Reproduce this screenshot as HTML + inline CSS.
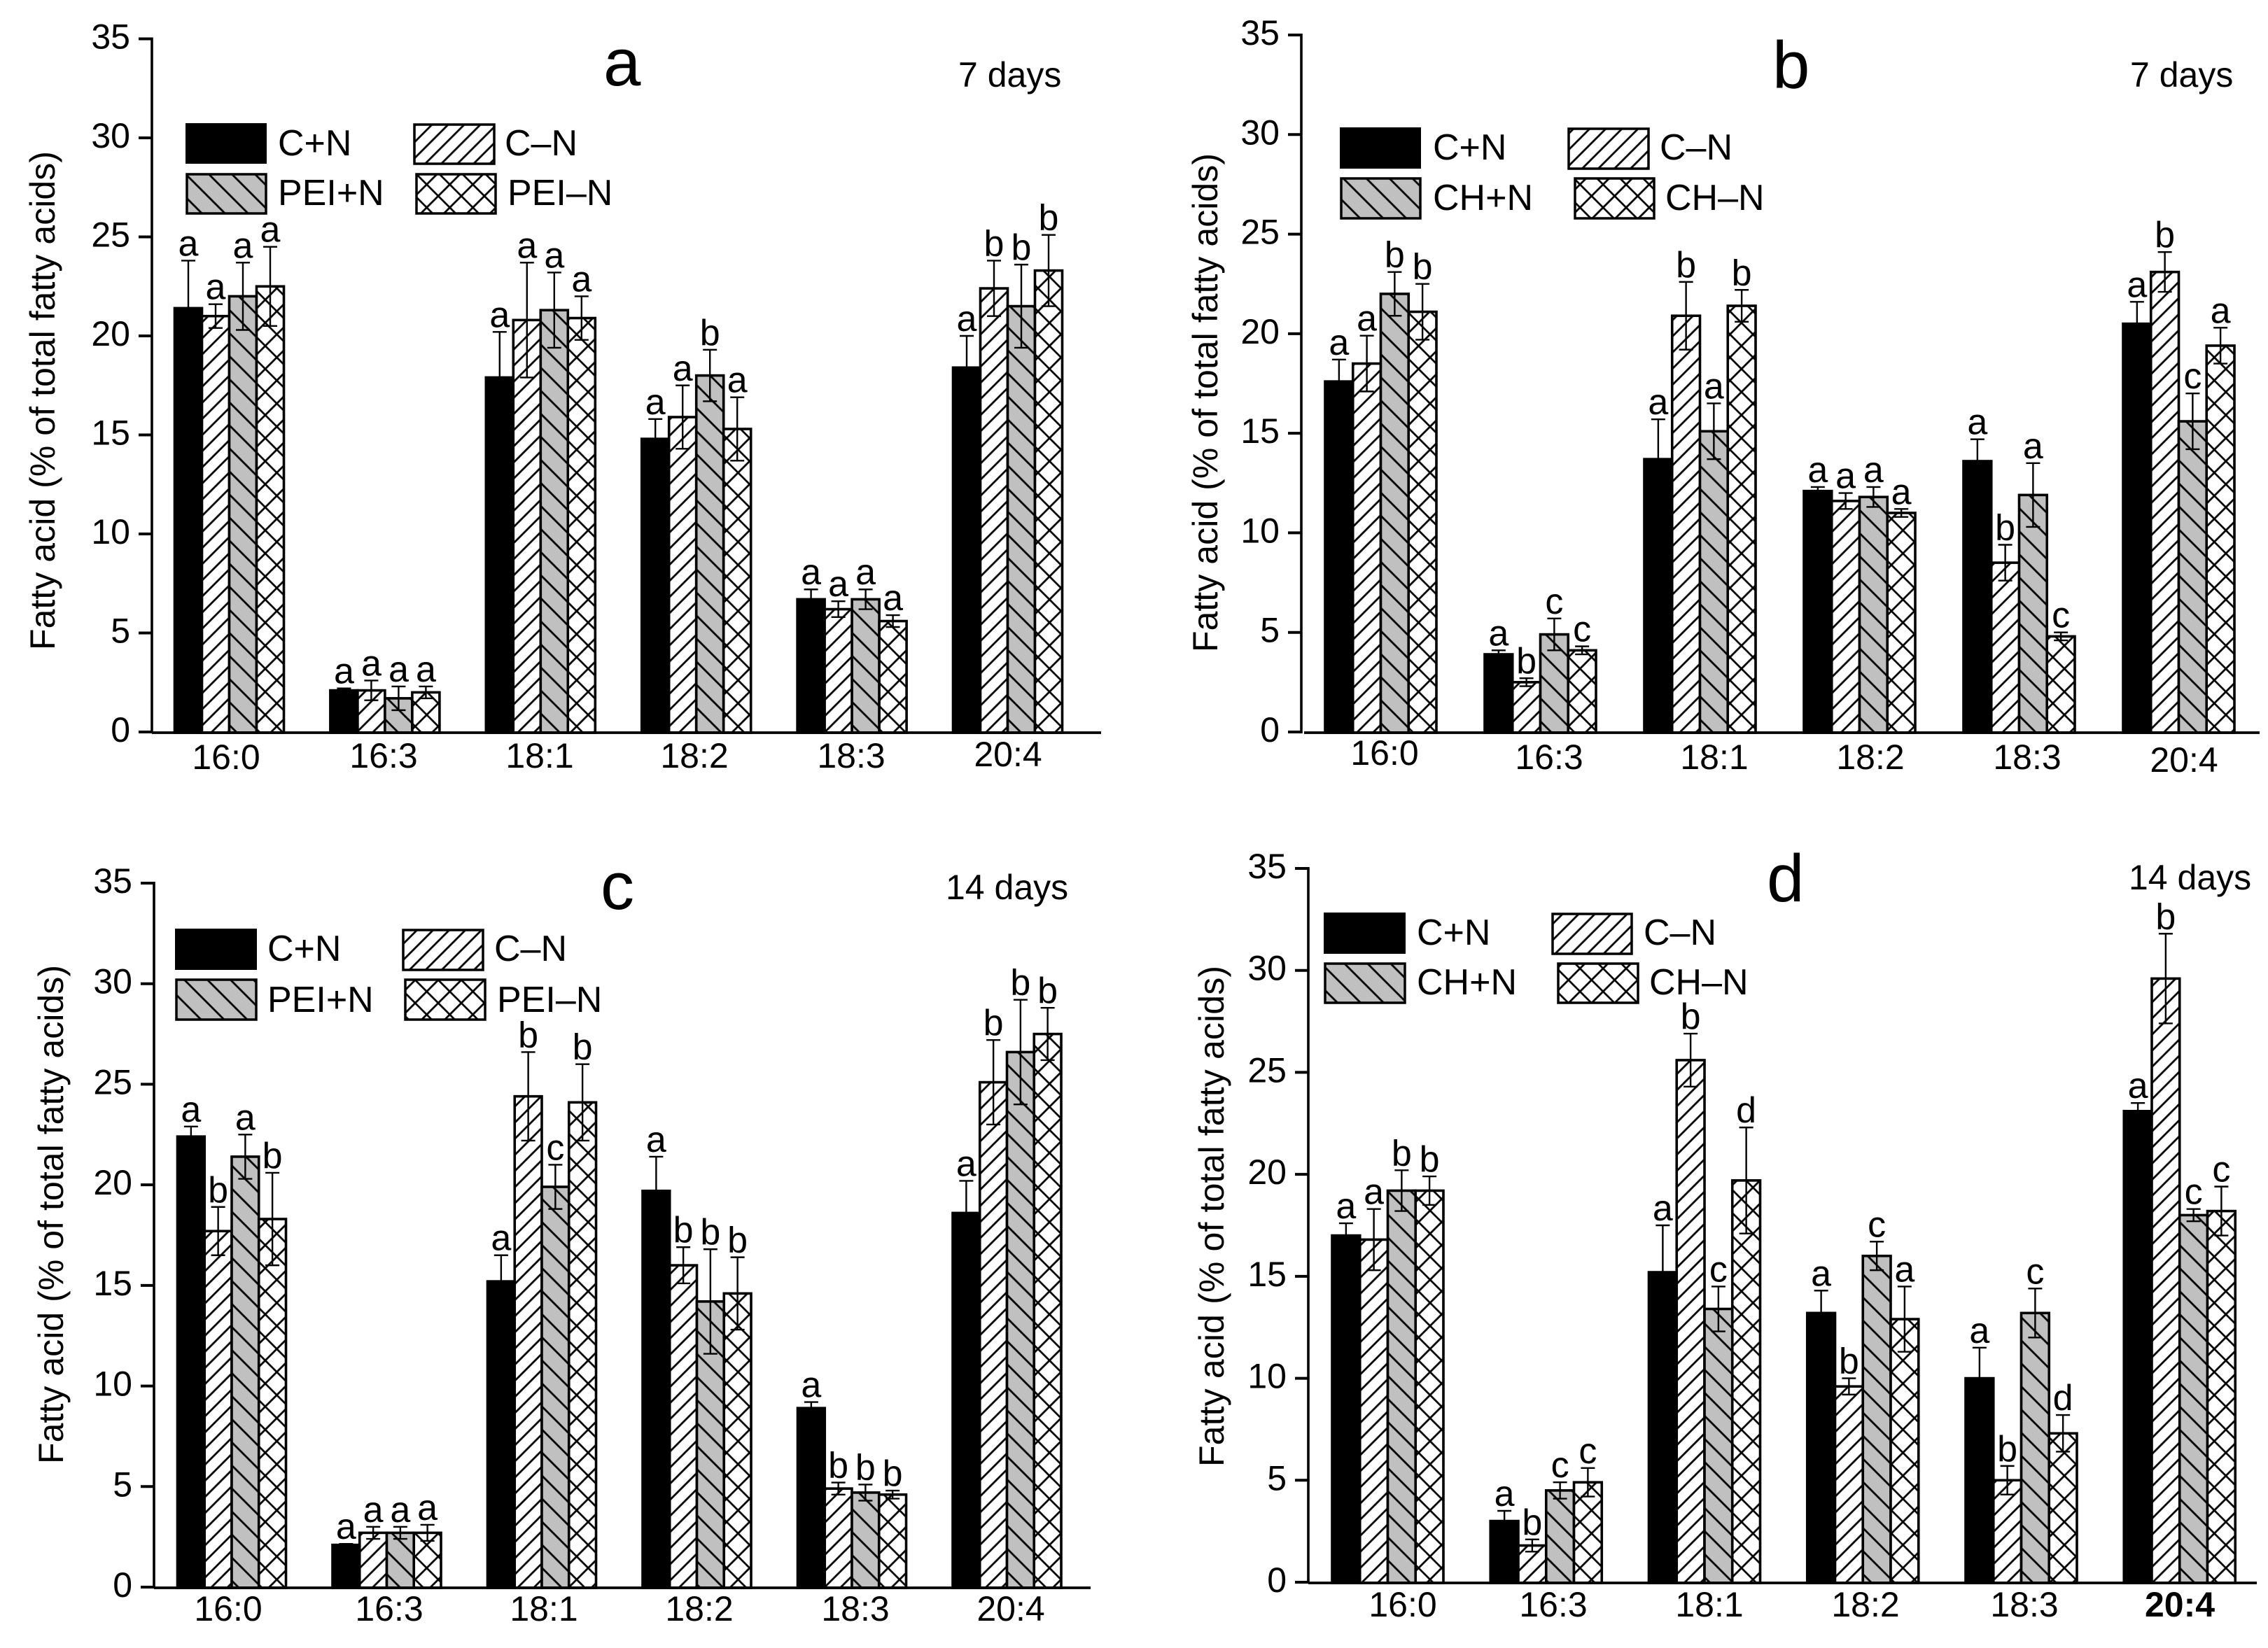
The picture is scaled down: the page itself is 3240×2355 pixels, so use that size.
<!DOCTYPE html>
<html lang="en">
<head>
<meta charset="utf-8">
<title>Fatty acid composition</title>
<style>
html,body{margin:0;padding:0;background:#fff;}
svg{display:block;font-family:"Liberation Sans",Arial,sans-serif;fill:#000;}
</style>
</head>
<body>
<svg id="chart" xmlns="http://www.w3.org/2000/svg" width="3240" height="2355" viewBox="0 0 3240 2355">
<defs>
<pattern id="p-hatch" patternUnits="userSpaceOnUse" width="16.3" height="16.3" patternTransform="rotate(45)">
<rect width="16.3" height="16.3" fill="#fff"/><line x1="8.15" y1="0" x2="8.15" y2="16.3" stroke="#000" stroke-width="2.8"/>
</pattern>
<pattern id="p-gray" patternUnits="userSpaceOnUse" width="23.3" height="23.3" patternTransform="rotate(-45)">
<rect width="23.3" height="23.3" fill="#c0c0c0"/><line x1="11.65" y1="0" x2="11.65" y2="23.3" stroke="#000" stroke-width="2.8"/>
</pattern>
<pattern id="p-cross" patternUnits="userSpaceOnUse" width="23.3" height="23.3" patternTransform="rotate(45)">
<rect width="23.3" height="23.3" fill="#fff"/><line x1="11.65" y1="0" x2="11.65" y2="23.3" stroke="#000" stroke-width="2.8"/><line x1="0" y1="11.65" x2="23.3" y2="11.65" stroke="#000" stroke-width="2.8"/>
</pattern>
</defs>
<rect width="3240" height="2355" fill="#fff"/>

<g id="panel-a">
<text x="862" y="122" font-size="96">a</text>
<text x="1369" y="124" font-size="50">7 days</text>
<text transform="translate(78,929) rotate(-90)" font-size="50" textLength="713">Fatty acid (% of total fatty acids)</text>
<g>
<rect x="265" y="176" width="116" height="58" fill="#000"/>
<text x="397" y="222" font-size="52">C+N</text>
<rect x="592" y="178" width="114" height="56" fill="url(#p-hatch)" stroke="#000" stroke-width="3.5"/>
<text x="721" y="222" font-size="52">C–N</text>
<rect x="267" y="249" width="113" height="56" fill="url(#p-gray)" stroke="#000" stroke-width="3.5"/>
<text x="397" y="293" font-size="52">PEI+N</text>
<rect x="595" y="249" width="113" height="56" fill="url(#p-cross)" stroke="#000" stroke-width="3.5"/>
<text x="725" y="293" font-size="52">PEI–N</text>
</g>
</g>

<g id="panel-b">
<text x="2532" y="126" font-size="96">b</text>
<text x="3043" y="124" font-size="50">7 days</text>
<text transform="translate(1739,932) rotate(-90)" font-size="50" textLength="713">Fatty acid (% of total fatty acids)</text>
<g>
<rect x="1914" y="182" width="116" height="59" fill="#000"/>
<text x="2047" y="228" font-size="52">C+N</text>
<rect x="2241" y="184" width="114" height="57" fill="url(#p-hatch)" stroke="#000" stroke-width="3.5"/>
<text x="2371" y="228" font-size="52">C–N</text>
<rect x="1916" y="255" width="113" height="57" fill="url(#p-gray)" stroke="#000" stroke-width="3.5"/>
<text x="2047" y="300" font-size="52">CH+N</text>
<rect x="2250" y="255" width="113" height="57" fill="url(#p-cross)" stroke="#000" stroke-width="3.5"/>
<text x="2379" y="300" font-size="52">CH–N</text>
</g>
</g>

<g id="panel-c">
<text x="858" y="1299" font-size="96">c</text>
<text x="1351" y="1285" font-size="50">14 days</text>
<text transform="translate(90,2092) rotate(-90)" font-size="50" textLength="713">Fatty acid (% of total fatty acids)</text>
<g>
<rect x="250" y="1327" width="117" height="59" fill="#000"/>
<text x="382" y="1373" font-size="52">C+N</text>
<rect x="576" y="1329" width="114" height="57" fill="url(#p-hatch)" stroke="#000" stroke-width="3.5"/>
<text x="706" y="1373" font-size="52">C–N</text>
<rect x="252" y="1400" width="114" height="57" fill="url(#p-gray)" stroke="#000" stroke-width="3.5"/>
<text x="382" y="1446" font-size="52">PEI+N</text>
<rect x="579" y="1400" width="114" height="57" fill="url(#p-cross)" stroke="#000" stroke-width="3.5"/>
<text x="710" y="1446" font-size="52">PEI–N</text>
</g>
</g>

<g id="panel-d">
<text x="2524" y="1288" font-size="96">d</text>
<text x="3041" y="1271" font-size="50">14 days</text>
<text transform="translate(1748,2096) rotate(-90)" font-size="50" textLength="716">Fatty acid (% of total fatty acids)</text>
<g>
<rect x="1891" y="1304" width="117" height="59" fill="#000"/>
<text x="2024" y="1350" font-size="52">C+N</text>
<rect x="2218" y="1306" width="113" height="57" fill="url(#p-hatch)" stroke="#000" stroke-width="3.5"/>
<text x="2348" y="1350" font-size="52">C–N</text>
<rect x="1893" y="1377" width="114" height="56" fill="url(#p-gray)" stroke="#000" stroke-width="3.5"/>
<text x="2024" y="1421" font-size="52">CH+N</text>
<rect x="2226" y="1377" width="114" height="56" fill="url(#p-cross)" stroke="#000" stroke-width="3.5"/>
<text x="2356" y="1421" font-size="52">CH–N</text>
</g>
</g>
</svg>

<script>
var categories = ["16:0", "16:3", "18:1", "18:2", "18:3", "20:4"];
var yTicks = [0, 5, 10, 15, 20, 25, 30, 35];
var yMax = 35;

var valuesA = [[21.4, 21.0, 22.0, 22.5], [2.1, 2.1, 1.7, 2.0], [17.9, 20.8, 21.3, 20.9], [14.8, 15.9, 18.0, 15.3], [6.7, 6.2, 6.7, 5.6], [18.4, 22.4, 21.5, 23.3]];
var errorsA = [[2.4, 0.6, 1.7, 2.0], [0.1, 0.5, 0.6, 0.3], [2.3, 2.9, 1.9, 1.1], [1.0, 1.6, 1.3, 1.6], [0.5, 0.4, 0.5, 0.3], [1.6, 1.4, 2.1, 1.8]];
var lettersA = [["a", "a", "a", "a"], ["a", "a", "a", "a"], ["a", "a", "a", "a"], ["a", "a", "b", "a"], ["a", "a", "a", "a"], ["a", "b", "b", "b"]];

var valuesB = [[17.6, 18.5, 22.0, 21.1], [3.9, 2.5, 4.9, 4.1], [13.7, 20.9, 15.1, 21.4], [12.1, 11.6, 11.8, 11.0], [13.6, 8.5, 11.9, 4.8], [20.5, 23.1, 15.6, 19.4]];
var errorsB = [[1.1, 1.4, 1.1, 1.4], [0.2, 0.2, 0.8, 0.2], [2.0, 1.7, 1.4, 0.8], [0.2, 0.4, 0.5, 0.2], [1.1, 0.9, 1.6, 0.2], [1.1, 1.0, 1.4, 0.9]];
var lettersB = [["a", "a", "b", "b"], ["a", "b", "c", "c"], ["a", "b", "a", "b"], ["a", "a", "a", "a"], ["a", "b", "a", "c"], ["a", "b", "c", "a"]];

var valuesC = [[22.4, 17.7, 21.4, 18.3], [2.1, 2.7, 2.7, 2.7], [15.2, 24.4, 19.9, 24.1], [19.7, 16.0, 14.2, 14.6], [8.9, 4.9, 4.7, 4.6], [18.6, 25.1, 26.6, 27.5]];
var errorsC = [[0.5, 1.2, 1.1, 2.3], [0.05, 0.3, 0.3, 0.4], [1.3, 2.2, 1.1, 1.9], [1.7, 0.9, 2.6, 1.8], [0.3, 0.3, 0.4, 0.2], [1.6, 2.1, 2.6, 1.3]];
var lettersC = [["a", "b", "a", "b"], ["a", "a", "a", "a"], ["a", "b", "c", "b"], ["a", "b", "b", "b"], ["a", "b", "b", "b"], ["a", "b", "b", "b"]];

var valuesD = [[17.0, 16.8, 19.2, 19.2], [3.0, 1.8, 4.5, 4.9], [15.2, 25.6, 13.4, 19.7], [13.2, 9.6, 16.0, 12.9], [10.0, 5.0, 13.2, 7.3], [23.1, 29.6, 18.0, 18.2]];
var errorsD = [[0.6, 1.5, 1.0, 0.7], [0.5, 0.3, 0.4, 0.7], [2.3, 1.3, 1.1, 2.6], [1.1, 0.4, 0.7, 1.6], [1.5, 0.7, 1.2, 0.9], [0.4, 2.2, 0.3, 1.2]];
var lettersD = [["a", "a", "b", "b"], ["a", "b", "c", "c"], ["a", "b", "c", "d"], ["a", "b", "c", "a"], ["a", "b", "c", "d"], ["a", "b", "c", "c"]];

var SVGNS = "http://www.w3.org/2000/svg";
var seriesFills = ["#000", "url(#p-hatch)", "url(#p-gray)", "url(#p-cross)"];
var seriesNames = ["control-plus-n", "control-minus-n", "treated-plus-n", "treated-minus-n"];

function mk(parent, tag, attrs, text) {
  var el = document.createElementNS(SVGNS, tag);
  for (var k in attrs) el.setAttribute(k, attrs[k]);
  if (text !== undefined) el.textContent = text;
  parent.appendChild(el);
  return el;
}

function drawPanel(id, geo, values, errors, letters) {
  var root = document.getElementById(id);
  function yScale(v) { return geo.y0 - v * (geo.y0 - geo.yTop) / yMax; }
  function xScale(g, s) { return geo.barX + g * geo.step + s * geo.barW; }

  // bars
  values.forEach(function (group, g) {
    group.forEach(function (v, s) {
      var r = mk(root, "rect", {
        x: xScale(g, s), y: yScale(v), width: geo.barW, height: geo.y0 - yScale(v) + 1,
        fill: seriesFills[s], stroke: "#000", "stroke-width": 3.6
      });
      
      
    });
  });

  // error bars and significance letters
  values.forEach(function (group, g) {
    group.forEach(function (v, s) {
      var cx = xScale(g, s) + geo.barW / 2;
      var hi = yScale(v + errors[g][s]);
      var lo = yScale(v - errors[g][s]);
      var e = mk(root, "path", {
        d: "M" + (cx - 10) + " " + hi + "H" + (cx + 10) + "M" + cx + " " + hi + "V" + lo + "M" + (cx - 10) + " " + lo + "H" + (cx + 10),
        fill: "none", stroke: "#000", "stroke-width": 2.4
      });
      
      
      var t = mk(root, "text", { x: cx, y: hi - 7, "font-size": 52, "text-anchor": "middle" }, letters[g][s]);
      
      
    });
  });

  // y axis
  var axis = mk(root, "line", { x1: geo.axisX, y1: geo.yTop - 2, x2: geo.axisX, y2: geo.y0 + 2, stroke: "#000", "stroke-width": 3.6 });
  
  
  yTicks.forEach(function (v) {
    var tick = mk(root, "line", { x1: geo.axisX - 19, y1: yScale(v), x2: geo.axisX, y2: yScale(v), stroke: "#000", "stroke-width": 4 });
    
    
    var lab = mk(root, "text", { x: geo.axisX - 31, y: yScale(v) + 14, "font-size": 50, "text-anchor": "end" }, String(v));
    
    
  });

  // x axis
  var xAxis = mk(root, "line", { x1: geo.axisStart, y1: geo.y0 + 1, x2: geo.axisEnd, y2: geo.y0 + 1, stroke: "#000", "stroke-width": 3.8 });
  
  
  categories.forEach(function (c, g) {
    var lab = mk(root, "text", {
      x: geo.labelX[g], y: geo.labelY[g], "font-size": 50, "text-anchor": "middle",
      "font-weight": (geo.boldLast && g === categories.length - 1) ? "bold" : "normal"
    }, c);
    
    
  });
}

drawPanel("panel-a", {
  axisX: 217, yTop: 55.5, y0: 1046, barX: 249.5, step: 222.4, barW: 39, axisStart: 217, axisEnd: 1573,
  labelX: [323, 548, 771, 992, 1216, 1440], labelY: [1099, 1097, 1097, 1097, 1097, 1095]
}, valuesA, errorsA, lettersA);

drawPanel("panel-b", {
  axisX: 1859, yTop: 50, y0: 1046, barX: 1893, step: 228, barW: 39.75, axisStart: 1863, axisEnd: 3228,
  labelX: [1978, 2213, 2449, 2672, 2896, 3120], labelY: [1093, 1099, 1099, 1099, 1099, 1103]
}, valuesB, errorsB, lettersB);

drawPanel("panel-c", {
  axisX: 220, yTop: 1262, y0: 2268, barX: 253.5, step: 221.5, barW: 38.75, axisStart: 220, axisEnd: 1558,
  labelX: [326, 556, 777, 999, 1222, 1444], labelY: [2316, 2316, 2316, 2316, 2316, 2316]
}, valuesC, errorsC, lettersC);

drawPanel("panel-d", {
  axisX: 1869, yTop: 1241, y0: 2261, barX: 1903, step: 226.25, barW: 39.75, axisStart: 1869, axisEnd: 3224,
  labelX: [2004, 2219, 2442, 2665, 2892, 3114], labelY: [2310, 2310, 2310, 2310, 2310, 2310], boldLast: true
}, valuesD, errorsD, lettersD);
</script>
</body>
</html>
